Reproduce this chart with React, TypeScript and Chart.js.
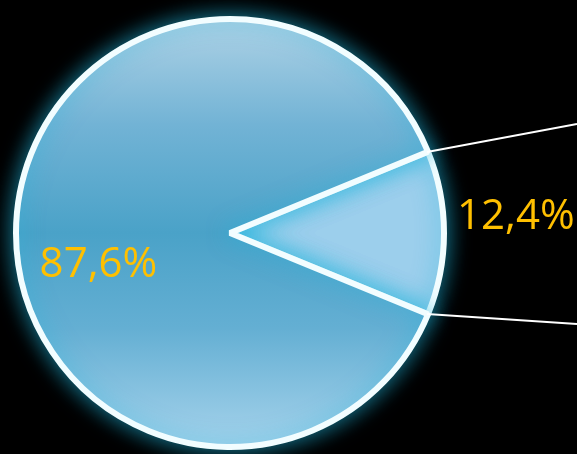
import React, { useEffect, useRef } from "react";
import { Chart, registerables } from "chart.js";

Chart.register(...registerables);

const categories = ["Small share", "Large share"];
const values = [12.4, 87.6];
const valueLabels = ["12,4%", "87,6%"];

const labelPlugin = {
  id: "pieDecor",
  beforeDatasetsDraw(chart: any) {
    const ctx = chart.ctx;
    ctx.save();
    ctx.shadowColor = "rgba(30,180,220,0.7)";
    ctx.shadowBlur = 22;
  },
  afterDatasetsDraw(chart: any) {
    const ctx = chart.ctx;
    ctx.restore();
    const meta = chart.getDatasetMeta(0);
    const small = meta.data[0];
    const big = meta.data[1];
    const { x, y, outerRadius, startAngle, endAngle } = small.getProps(
      ["x", "y", "outerRadius", "startAngle", "endAngle"],
      true
    );
    const W = chart.width;
    ctx.save();
    ctx.strokeStyle = "#ffffff";
    ctx.lineWidth = 2;
    const r = outerRadius - 1;
    const p1 = { x: x + r * Math.cos(startAngle), y: y + r * Math.sin(startAngle) };
    const p2 = { x: x + r * Math.cos(endAngle), y: y + r * Math.sin(endAngle) };
    const a1 = (-10.6 * Math.PI) / 180;
    const a2 = (3.9 * Math.PI) / 180;
    ctx.beginPath();
    ctx.moveTo(p1.x, p1.y);
    ctx.lineTo(W, p1.y + (W - p1.x) * Math.tan(a1));
    ctx.moveTo(p2.x, p2.y);
    ctx.lineTo(W, p2.y + (W - p2.x) * Math.tan(a2));
    ctx.stroke();

    ctx.fillStyle = "#FFC000";
    ctx.font = "42px 'Open Sans'";
    ctx.textBaseline = "alphabetic";
    const midS = (startAngle + endAngle) / 2;
    ctx.textAlign = "left";
    ctx.fillText(
      valueLabels[0],
      x + (outerRadius + 13) * Math.cos(midS),
      y + (outerRadius + 13) * Math.sin(midS) - 4
    );
    const bp = big.getProps(["startAngle", "endAngle"], true);
    const midB = (bp.startAngle + bp.endAngle) / 2 - 0.22;
    ctx.textAlign = "center";
    ctx.fillText(
      valueLabels[1],
      x + outerRadius * 0.63 * Math.cos(midB),
      y + outerRadius * 0.63 * Math.sin(midB) + 15
    );
    ctx.restore();
  },
};

let cachedGrad: any = null;
function sliceColor(context: any) {
  if (context.dataIndex === 0) return "#9ccfec";
  const chart = context.chart;
  const area = chart.chartArea;
  if (!area) return "#4aa2c8";
  if (cachedGrad && cachedGrad.chart === chart) return cachedGrad.g;
  const g = chart.ctx.createLinearGradient(0, area.top + 4, 0, area.bottom - 4);
  g.addColorStop(0, "#b0d3e6");
  g.addColorStop(0.25, "#72b3d5");
  g.addColorStop(0.5, "#4aa2c8");
  g.addColorStop(0.72, "#64afd3");
  g.addColorStop(1, "#a8d4ec");
  cachedGrad = { chart, g };
  return g;
}

export default function App() {
  const ref = useRef<HTMLCanvasElement>(null);
  useEffect(() => {
    if (!ref.current) return;
    const small = values[0] / (values[0] + values[1]);
    const chart = new Chart(ref.current, {
      type: "pie",
      data: {
        labels: categories,
        datasets: [
          {
            data: values,
            backgroundColor: sliceColor as any,
            borderColor: "#f2fdff",
            borderWidth: 6,
          },
        ],
      },
      plugins: [labelPlugin],
      options: {
        animation: false,
        responsive: false,
        rotation: 90 - (small * 360) / 2,
        radius: 214,
        layout: { padding: { left: 0, right: 117, top: 12, bottom: 0 } },
        plugins: { legend: { display: false }, tooltip: { enabled: false } },
        events: [],
      },
    });
    return () => chart.destroy();
  }, []);
  return (
    <div style={{ position: "fixed", left: 0, top: 0, width: 577, height: 454, background: "#000" }}>
      <canvas ref={ref} width={577} height={454} style={{ display: "block" }} />
    </div>
  );
}
